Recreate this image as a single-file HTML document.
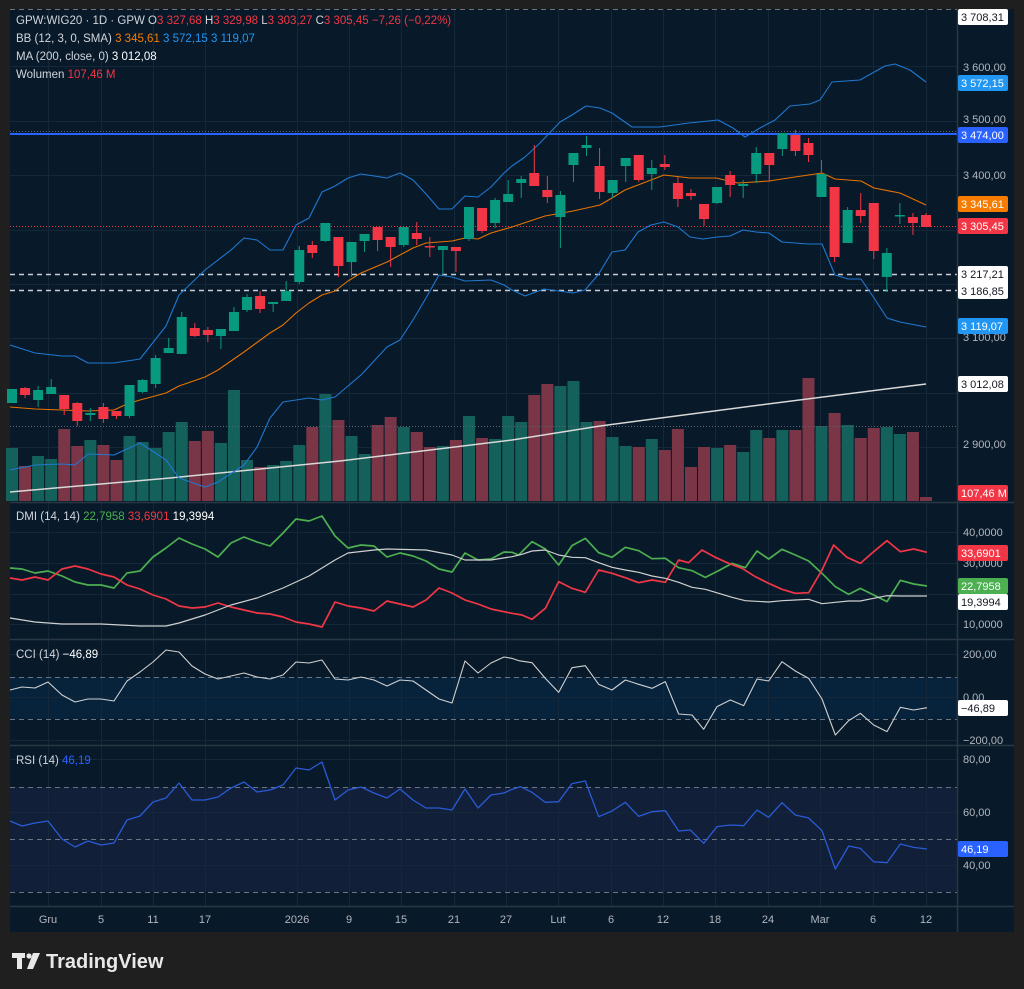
<!DOCTYPE html>
<html><head><meta charset="utf-8"><style>
html,body{margin:0;padding:0;background:#1f1f1f;}
body{width:1024px;height:989px;overflow:hidden;position:relative;font-family:"Liberation Sans",sans-serif;}
svg{position:absolute;left:0;top:0;}
</style></head><body>
<svg id="s" width="1024" height="989" xmlns="http://www.w3.org/2000/svg" font-family="Liberation Sans, sans-serif">
<rect x="10" y="9" width="1004" height="923" fill="#081a29"/>
<rect x="10" y="787" width="947" height="105" fill="#111f38"/>
<rect x="10" y="677" width="947" height="42" fill="#06233b"/>
<g id="grid" stroke="#15283a" stroke-width="1"></g>
<g id="plot"></g>
<g stroke="#2a3644" stroke-width="1.5">
<line x1="10" y1="502.5" x2="1014" y2="502.5"/>
<line x1="10" y1="639.5" x2="1014" y2="639.5"/>
<line x1="10" y1="745.5" x2="1014" y2="745.5"/>
<line x1="10" y1="906.5" x2="1014" y2="906.5"/>
<line x1="957.5" y1="9" x2="957.5" y2="932"/>
</g>
<g font-size="11.5" fill="#d1d4dc">
<text x="16" y="24">GPW:WIG20 · 1D · GPW  O<tspan fill="#f23645">3 327,68</tspan>  H<tspan fill="#f23645">3 329,98</tspan>  L<tspan fill="#f23645">3 303,27</tspan>  C<tspan fill="#f23645">3 305,45 −7,26 (−0,22%)</tspan></text>
<text x="16" y="42">BB (12, 3, 0, SMA)  <tspan fill="#f57c00">3 345,61</tspan>  <tspan fill="#2196f3">3 572,15</tspan>  <tspan fill="#2196f3">3 119,07</tspan></text>
<text x="16" y="60">MA (200, close, 0)  <tspan fill="#ffffff">3 012,08</tspan></text>
<text x="16" y="78">Wolumen  <tspan fill="#f23645">107,46 M</tspan></text>
<text x="16" y="520">DMI (14, 14)  <tspan fill="#4caf50">22,7958</tspan>  <tspan fill="#f23645">33,6901</tspan>  <tspan fill="#ffffff">19,3994</tspan></text>
<text x="16" y="658">CCI (14)  <tspan fill="#ffffff">−46,89</tspan></text>
<text x="16" y="764">RSI (14)  <tspan fill="#2962ff">46,19</tspan></text>
</g>
<g font-size="11" fill="#b2b5be">
<text x="963" y="71">3 600,00</text>
<text x="963" y="123">3 500,00</text>
<text x="963" y="179">3 400,00</text>
<text x="963" y="341">3 100,00</text>
<text x="963" y="448">2 900,00</text>
<text x="963" y="536">40,0000</text>
<text x="963" y="567">30,0000</text>
<text x="963" y="628">10,0000</text>
<text x="963" y="658">200,00</text>
<text x="963" y="701">0,00</text>
<text x="963" y="744">−200,00</text>
<text x="963" y="763">80,00</text>
<text x="963" y="816">60,00</text>
<text x="963" y="869">40,00</text>
</g>
<g id="badges" font-size="11"></g>
<g font-size="11" fill="#b2b5be" text-anchor="middle">
<text x="48" y="923">Gru</text><text x="101" y="923">5</text><text x="153" y="923">11</text><text x="205" y="923">17</text>
<text x="297" y="923">2026</text><text x="349" y="923">9</text><text x="401" y="923">15</text><text x="454" y="923">21</text>
<text x="506" y="923">27</text><text x="558" y="923">Lut</text><text x="611" y="923">6</text><text x="663" y="923">12</text>
<text x="715" y="923">18</text><text x="768" y="923">24</text><text x="820" y="923">Mar</text><text x="873" y="923">6</text><text x="926" y="923">12</text>
</g>
<g fill="#e8e8e8">
<rect x="12" y="953" width="13" height="5"/><rect x="17" y="953" width="5" height="16"/>
<circle cx="29" cy="956" r="2.6"/><polygon points="33,953 40,953 33,969 27,969"/>
<text x="46" y="968" font-size="20" font-weight="bold">TradingView</text>
</g>
</svg>
<script>
const S='http://www.w3.org/2000/svg';
const plot=document.getElementById('plot'),grid=document.getElementById('grid'),bd=document.getElementById('badges');
function el(p,t,a){const e=document.createElementNS(S,t);for(const k in a)e.setAttribute(k,a[k]);p.appendChild(e);return e;}
[48,101,153,205,297,349,401,454,506,558,611,663,715,768,820,873,926].forEach(x=>el(grid,'line',{x1:x+.5,y1:9,x2:x+.5,y2:906}));
[66,121,175,230,284,338,393,447,532,563,594,624,654,697,740,759,812,865].forEach(y=>el(grid,'line',{x1:10,y1:y+.5,x2:957,y2:y+.5}));
const X=i=>12+13.057*i;
const C=[[389,403,389,403,1],[388,395,387,398,0],[390,400,386,407,1],[387,394,379,394,1],[395,409,395,415,0],[403,421,402,426,0],[413,415,408,421,1],[407,419,403,423,0],[411,416,411,419,0],[385,416,385,418,1],[380,392,379,393,1],[358,384,355,388,1],[348,353,338,353,1],[317,354,312,354,1],[328,336,323,337,0],[330,335,327,342,0],[329,336,329,349,1],[312,331,307,331,1],[297,310,294,312,1],[296,309,291,313,0],[302,304,302,312,1],[291,301,281,301,1],[250,282,246,284,1],[245,253,241,258,0],[223,241,223,242,1],[237,266,237,277,0],[242,262,242,277,1],[234,241,234,252,1],[227,240,227,251,0],[237,247,237,267,0],[227,245,227,247,1],[233,239,222,245,0],[246,247,237,257,0],[246,250,246,275,1],[247,251,247,272,0],[207,239,207,241,1],[208,231,208,233,0],[200,223,198,228,1],[194,202,180,202,1],[179,183,176,198,1],[173,186,145,186,0],[190,197,176,203,0],[195,217,191,248,1],[153,165,153,182,1],[145,148,136,156,1],[166,192,148,199,0],[180,193,180,198,1],[158,166,158,182,1],[155,180,155,182,0],[168,174,160,190,1],[164,167,155,170,0],[183,199,177,207,0],[193,196,189,200,0],[204,219,204,226,0],[187,203,187,204,1],[175,185,171,197,0],[184,186,180,198,1],[153,174,147,183,1],[153,165,153,182,0],[133,149,133,156,1],[135,151,130,156,0],[143,155,138,162,0],[174,197,160,197,1],[187,257,187,262,0],[210,243,207,243,1],[210,216,193,223,0],[203,251,203,259,0],[253,277,248,292,1],[215,216,203,224,1],[217,223,213,235,0],[215,227,213,227,0]];
const V=[448,466,456,459,429,446,440,445,460,436,442,448,432,422,441,431,443,390,460,467,465,461,445,427,394,420,436,454,425,417,427,432,447,446,440,416,438,439,416,422,395,384,386,381,422,421,437,446,447,439,450,429,467,447,448,445,452,430,438,430,430,378,426,413,425,438,428,427,434,432,497];
V.forEach((v,i)=>el(plot,'rect',{x:X(i)-6,y:v,width:12,height:501-v,fill:C[i][4]?'#14605a':'#7a3646'}));
el(plot,'line',{x1:10,y1:9.5,x2:957,y2:9.5,stroke:'#6b7480','stroke-dasharray':'5 4'});
el(plot,'line',{x1:10,y1:426.5,x2:957,y2:426.5,stroke:'#5a6470','stroke-dasharray':'1 2'});
el(plot,'line',{x1:10,y1:131.5,x2:957,y2:131.5,stroke:'#5a6470','stroke-dasharray':'1 2'});
el(plot,'line',{x1:10,y1:134,x2:957,y2:134,stroke:'#2962ff','stroke-width':2});
el(plot,'line',{x1:10,y1:226.5,x2:957,y2:226.5,stroke:'#f23645','stroke-dasharray':'1 2'});
el(plot,'line',{x1:10,y1:274.5,x2:957,y2:274.5,stroke:'#c9ccd2','stroke-width':1.5,'stroke-dasharray':'5 4'});
el(plot,'line',{x1:10,y1:290.5,x2:957,y2:290.5,stroke:'#c9ccd2','stroke-width':1.5,'stroke-dasharray':'5 4'});
[677,719,787,839,892].forEach(y=>el(plot,'line',{x1:10,y1:y+.5,x2:957,y2:y+.5,stroke:'#6b7480','stroke-dasharray':'5 4'}));
function pl(pts,c,w){el(plot,'polyline',{points:pts.map(p=>p.join(',')).join(' '),fill:'none',stroke:c,'stroke-width':w||1.3,'stroke-linejoin':'round'});}
pl([[10,492],[170,478],[340,461],[512,440],[600,426],[760,405],[926,384]],'#d8d8d8',1.5);
pl([[10,345],[35,353],[62,356],[75,356],[88,363],[114,363],[127,361],[140,359],[166,326],[179,295],[205,270],[231,250],[244,238],[257,240],[270,250],[283,250],[296,225],[309,218],[322,192],[335,186],[348,178],[361,174],[387,178],[400,173],[413,180],[426,194],[439,209],[452,209],[465,196],[478,197],[491,187],[504,173],[512,166],[525,157],[540,143],[560,122],[572,115],[586,106],[600,108],[612,113],[632,127],[660,127],[689,123],[718,120],[733,128],[745,137],[760,128],[775,120],[790,106],[810,104],[820,100],[832,82],[860,80],[885,66],[895,64],[910,70],[926,82]],'#1f78d1',1.1);
pl([[10,470],[35,465],[62,464],[75,465],[88,454],[114,455],[140,443],[166,460],[179,478],[205,487],[218,482],[244,465],[257,447],[270,418],[283,402],[309,398],[322,400],[335,397],[348,386],[361,375],[387,347],[400,340],[413,320],[426,298],[439,275],[452,277],[465,281],[491,280],[504,285],[512,290],[525,296],[544,289],[573,293],[585,290],[598,275],[612,252],[625,250],[638,232],[651,225],[664,222],[678,227],[690,237],[703,239],[717,237],[730,236],[743,230],[756,232],[769,233],[782,242],[808,244],[822,244],[835,275],[848,279],[861,279],[874,298],[887,318],[900,322],[926,327]],'#1f78d1',1.1);
pl([[10,407],[35,409],[62,410],[88,411],[114,410],[127,404],[140,400],[166,393],[179,386],[205,377],[218,370],[244,352],[270,333],[283,325],[296,313],[309,303],[322,295],[335,291],[348,281],[361,273],[387,262],[413,248],[426,243],[452,241],[465,238],[478,239],[491,233],[512,227],[545,216],[573,211],[600,205],[612,198],[625,190],[651,180],[664,175],[690,178],[716,178],[738,183],[769,181],[795,177],[822,173],[835,179],[861,181],[874,188],[900,193],[926,205]],'#e87300',1.1);
C.forEach((c,i)=>{const x=X(i),col=c[4]?'#089981':'#f23645';el(plot,'line',{x1:x,y1:c[2],x2:x,y2:c[3],stroke:col,'stroke-width':1});el(plot,'rect',{x:x-5,y:c[0],width:10,height:Math.max(1.5,c[1]-c[0]),fill:col});});
const z=(arr)=>arr.map(([a,b])=>[512+a/3,500+b/3]);
pl([[10,568],[22,569],[35,573],[48,571],[62,576],[75,582],[88,585],[101,585],[114,588],[127,573],[140,571],[153,557],[166,548],[179,538],[192,544],[205,549],[218,557],[231,543],[244,537],[257,542],[270,546],[283,533],[296,519],[309,521],[322,516],[335,536],[348,548],[361,545],[374,546],[387,557],[400,553],[413,556],[426,561],[439,569],[452,572],[465,553],[478,560],[491,559],[504,552]].concat(z([[0,157],[20,165],[60,125],[100,147],[140,195],[180,137],[220,115],[260,158],[300,172],[340,142],[380,152],[420,176],[460,175],[500,203],[540,212],[580,232],[620,212],[660,190],[700,203],[735,153],[770,177],[810,148],[850,165],[890,183],[930,220],[970,260],[1010,283],[1045,265],[1085,285],[1125,305],[1165,241],[1205,252],[1245,258]])),'#4caf50',1.7);
pl([[10,578],[22,580],[35,577],[48,580],[62,569],[75,566],[88,569],[101,574],[114,577],[127,585],[140,589],[153,595],[166,599],[179,606],[192,608],[205,607],[218,603],[231,607],[244,610],[257,613],[270,614],[283,617],[296,622],[309,624],[322,627],[335,602],[348,606],[361,608],[374,611],[387,601],[400,604],[413,607],[426,600],[439,588],[452,593],[465,600],[478,604],[491,609]].concat(z([[0,340],[30,345],[60,358],[100,325],[140,245],[180,265],[220,277],[260,210],[300,220],[340,233],[380,248],[420,240],[460,247],[500,180],[530,188],[570,150],[610,172],[650,190],[690,205],[730,230],[770,250],[810,268],[850,280],[890,278],[930,210],[965,135],[1005,172],[1045,190],[1085,155],[1125,122],[1165,155],[1205,147],[1245,157]])),'#f23645',1.7);
pl([[10,618],[35,622],[62,624],[101,624],[140,626],[166,626],[179,623],[205,615],[231,605],[257,598],[283,588],[309,576],[335,560],[348,553],[374,550],[387,549],[426,550],[452,555],[465,560],[491,560]].concat(z([[0,170],[30,163],[60,153],[100,150],[140,165],[180,172],[220,173],[260,188],[300,202],[340,210],[380,217],[420,228],[460,235],[500,247],[540,262],[580,268],[620,280],[660,292],[700,302],[770,306],[810,302],[850,300],[890,298],[930,311],[970,307],[1010,303],[1045,303],[1085,295],[1125,287],[1165,288],[1245,288]])),'#d0d0d0',1.2);
pl([[10,690],[22,687],[35,688],[48,682],[62,695],[75,702],[88,699],[101,699],[114,701],[127,681],[140,672],[153,662],[166,650],[179,652],[192,666],[205,674],[218,679],[231,676],[244,673],[257,677],[270,679],[283,675],[296,662],[309,663],[322,660],[335,679],[348,680],[361,677],[374,680],[387,686],[400,680],[413,681],[426,690],[439,699],[452,703],[465,661],[478,673],[491,663],[504,657]].concat(z([[0,475],[20,482],[60,488],[100,535],[140,577],[180,503],[220,497],[260,553],[300,570],[340,540],[380,553],[420,565],[460,545],[500,642],[540,645],[575,688],[615,620],[655,600],[695,617],[735,537],[770,543],[810,485],[850,513],[890,535],[930,597],[970,705],[1010,662],[1045,640],[1085,675],[1125,695],[1165,622],[1205,630],[1245,623]])),'#d0d0d0',1.1);
const zr=(arr)=>arr.map(([a,b])=>[512+a/3,740+b/3]);
pl([[10,821],[22,826],[35,823],[48,821],[62,839],[75,847],[88,841],[101,845],[114,843],[127,820],[140,816],[153,802],[166,798],[179,783],[192,800],[205,800],[218,797],[231,788],[244,782],[257,792],[270,790],[283,785],[296,768],[309,770],[322,762],[335,800],[348,790],[361,787],[374,793],[387,798],[400,789],[413,800],[426,808],[439,808],[452,810],[465,789],[478,808],[491,795],[504,793]].concat(zr([[0,148],[25,140],[60,157],[100,187],[140,185],[180,131],[220,123],[260,230],[300,213],[340,187],[380,229],[420,215],[460,212],[500,273],[535,270],[575,310],[615,260],[655,255],[695,257],[735,210],[770,232],[810,188],[850,225],[890,234],[930,272],[970,387],[1010,318],[1045,325],[1085,365],[1125,368],[1165,312],[1205,322],[1245,327]])),'#2a5bd7',1.3);
function badge(y,t,bg,fg){el(bd,'rect',{x:958,y:y-8,width:50,height:16,rx:2,fill:bg});const e=el(bd,'text',{x:961,y:y+4,fill:fg});e.textContent=t;}
badge(17,'3 708,31','#ffffff','#131722');
badge(83,'3 572,15','#2196f3','#ffffff');
badge(135,'3 474,00','#2962ff','#ffffff');
badge(204,'3 345,61','#f57c00','#ffffff');
badge(226,'3 305,45','#f23645','#ffffff');
el(bd,'rect',{x:958,y:266,width:50,height:33,rx:2,fill:'#ffffff'});
let t=el(bd,'text',{x:961,y:278,fill:'#131722'});t.textContent='3 217,21';
t=el(bd,'text',{x:961,y:295,fill:'#131722'});t.textContent='3 186,85';
badge(326,'3 119,07','#2196f3','#ffffff');
badge(384,'3 012,08','#ffffff','#131722');
badge(493,'107,46 M','#f23645','#ffffff');
badge(553,'33,6901','#f23645','#ffffff');
badge(586,'22,7958','#4caf50','#ffffff');
badge(602,'19,3994','#ffffff','#131722');
badge(708,'−46,89','#ffffff','#131722');
badge(849,'46,19','#2962ff','#ffffff');
</script>
</body></html>
